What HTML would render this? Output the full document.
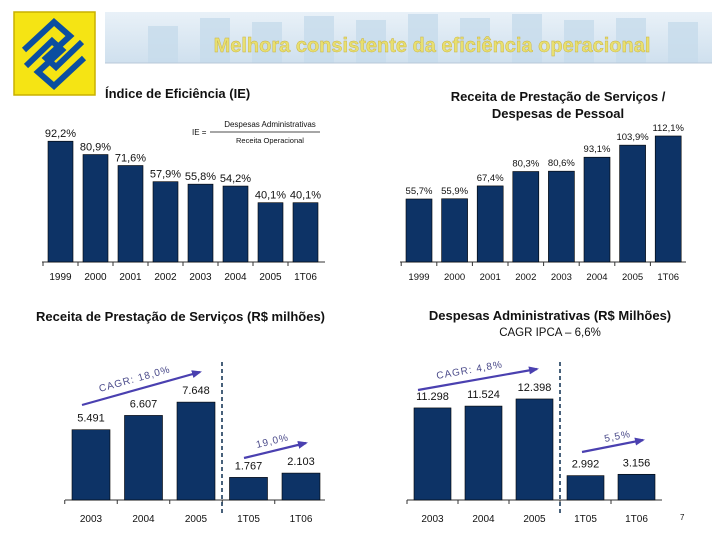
<!DOCTYPE html>
<html><head><meta charset="utf-8">
<style>
html,body{margin:0;padding:0;background:#fff;}
body{width:720px;height:540px;overflow:hidden;font-family:"Liberation Sans",sans-serif;}
svg text{font-family:"Liberation Sans",sans-serif;}
</style></head>
<body>
<svg id="s" width="720" height="540" viewBox="0 0 720 540">
<defs>
<linearGradient id="hg" x1="0" y1="0" x2="0" y2="1">
<stop offset="0" stop-color="#e9f1f8"/><stop offset="1" stop-color="#cfe0ee"/></linearGradient>
<marker id="ah" markerUnits="userSpaceOnUse" markerWidth="10" markerHeight="10" refX="8" refY="5" orient="auto"><path d="M0,1 L10,5 L0,9 z" fill="#4a40b0"/></marker>
</defs>
<g>
<rect x="105" y="12" width="607" height="51" fill="url(#hg)"/>
<g fill="#c7dcec" opacity="0.8">
<rect x="148" y="26" width="30" height="37"/><rect x="200" y="18" width="30" height="45"/><rect x="252" y="22" width="30" height="41"/><rect x="304" y="16" width="30" height="47"/><rect x="356" y="20" width="30" height="43"/><rect x="408" y="14" width="30" height="49"/><rect x="460" y="18" width="30" height="45"/><rect x="512" y="14" width="30" height="49"/><rect x="564" y="20" width="30" height="43"/><rect x="616" y="18" width="30" height="45"/><rect x="668" y="22" width="30" height="41"/>
</g>
<line x1="105" y1="63" x2="712" y2="63" stroke="#b8c8d8"/>
<text x="432" y="52" text-anchor="middle" font-size="20" font-weight="bold" fill="#e8e070" stroke="#c8b040" stroke-width="0.4">Melhora consistente da eficiência operacional</text>
</g>
<g>
<rect x="14" y="12" width="81" height="83" fill="#f5e414" stroke="#c8b000" stroke-width="1.5"/>
<g fill="none" stroke="#0b4ea0" stroke-width="6" stroke-linejoin="miter">
<path d="M24,50 L54,22 L70,36 L46,58 L56,67 L82,42"/>
<path d="M84,58 L54,86 L38,72 L62,50 L52,41 L26,66"/>
</g>
</g>

<g id="c1">
<text x="105" y="98" font-size="13" font-weight="bold" fill="#111">Índice de Eficiência (IE)</text>
<g>
<text x="192" y="135" font-size="8" fill="#111">IE =</text>
<text x="270" y="127" text-anchor="middle" font-size="8" fill="#111">Despesas Administrativas</text>
<line x1="210" y1="132" x2="320" y2="132" stroke="#111" stroke-width="0.8"/>
<text x="270" y="143" text-anchor="middle" font-size="7.5" fill="#111">Receita Operacional</text>
</g>
</g>
<g id="c2">
<text x="558" y="101" text-anchor="middle" font-size="13" font-weight="bold" fill="#111">Receita de Prestação de Serviços /</text>
<text x="558" y="118" text-anchor="middle" font-size="13" font-weight="bold" fill="#111">Despesas de Pessoal</text>
</g>
<g id="c3">
<text x="36" y="321" font-size="13" font-weight="bold" fill="#111">Receita de Prestação de Serviços (R$ milhões)</text>
</g>
<g id="c4">
<text x="550" y="320" text-anchor="middle" font-size="13" font-weight="bold" fill="#111">Despesas Administrativas (R$ Milhões)</text>
<text x="550" y="336" text-anchor="middle" font-size="11.5" fill="#111">CAGR IPCA – 6,6%</text>
</g>
<text x="680" y="520" font-size="8" fill="#111">7</text>
</svg>
<script>
const NS="http://www.w3.org/2000/svg";
const c1Cats=["1999","2000","2001","2002","2003","2004","2005","1T06"];
const c1Vals=[92.2,80.9,71.6,57.9,55.8,54.2,40.1,40.1];
const c1Labels=["92,2%","80,9%","71,6%","57,9%","55,8%","54,2%","40,1%","40,1%"];
const c2Cats=["1999","2000","2001","2002","2003","2004","2005","1T06"];
const c2Vals=[55.7,55.9,67.4,80.3,80.6,93.1,103.9,112.1];
const c2Labels=["55,7%","55,9%","67,4%","80,3%","80,6%","93,1%","103,9%","112,1%"];
const c3Cats=["2003","2004","2005","1T05","1T06"];
const c3Vals=[5491,6607,7648,1767,2103];
const c3Labels=["5.491","6.607","7.648","1.767","2.103"];
const c4Cats=["2003","2004","2005","1T05","1T06"];
const c4Vals=[11298,11524,12398,2992,3156];
const c4Labels=["11.298","11.524","12.398","2.992","3.156"];

function mk(parent,tag,attrs,text){const e=document.createElementNS(NS,tag);for(const k in attrs)e.setAttribute(k,attrs[k]);if(text!==undefined)e.textContent=text;parent.appendChild(e);return e;}

function chart(gid,cats,vals,labels,o){
  const g=document.getElementById(gid);
  const yS=v=>o.base-(o.a+o.b*v);
  const ax=mk(g,"line",{x1:o.ax0,y1:o.base,x2:o.ax1,y2:o.base,stroke:"#333","stroke-width":1});
  
  
  cats.forEach((c,i)=>{
    const x=o.x0+i*o.step;
    const y=yS(vals[i]);
    const r=mk(g,"rect",{x:x,y:y,width:o.w,height:o.base-y,fill:"#0d3366",stroke:"#000","stroke-width":0.6});
    
    
    const t=mk(g,"text",{x:x+o.w/2,y:y-o.lo,"text-anchor":"middle","font-size":o.lf,fill:"#111"},labels[i]);
    
    
    const tk=mk(g,"text",{x:x+o.w/2,y:o.base+o.to,"text-anchor":"middle","font-size":o.tf,fill:"#111"},c);
    
    
    const tm=mk(g,"line",{x1:x-(o.step-o.w)/2,y1:o.base,x2:x-(o.step-o.w)/2,y2:o.base+4,stroke:"#333"});
    
    
  });
}
chart("c1",c1Cats,c1Vals,c1Labels,{base:262,a:12,b:1.18,x0:48,step:35,w:25,ax0:42,ax1:325,lo:4,lf:11,to:18,tf:10});
chart("c2",c2Cats,c2Vals,c2Labels,{base:262,a:0.8,b:1.117,x0:406,step:35.6,w:26,ax0:400,ax1:686,lo:5,lf:9.5,to:18,tf:9.5});
chart("c3",c3Cats,c3Vals,c3Labels,{base:500,a:0,b:0.0128,x0:72,step:52.5,w:38,ax0:65,ax1:325,lo:8,lf:11,to:22,tf:10});
chart("c4",c4Cats,c4Vals,c4Labels,{base:500,a:0,b:0.00815,x0:414,step:51,w:37,ax0:407,ax1:662,lo:8,lf:11,to:22,tf:10});

function dash(gid,x){const g=document.getElementById(gid);
  const l=mk(g,"line",{x1:x,y1:362,x2:x,y2:514,stroke:"#1a3a5a","stroke-width":1.6,"stroke-dasharray":"4,3"});
  
  }
dash("c3",222);dash("c4",560);
function arrow(gid,x1,y1,x2,y2,txt,tx,ty,name){const g=document.getElementById(gid);
  const l=mk(g,"line",{x1:x1,y1:y1,x2:x2,y2:y2,stroke:"#4a40b0","stroke-width":2.2,"marker-end":"url(#ah)"});
  
  
  const ang=Math.atan2(y2-y1,x2-x1)*180/Math.PI;
  const t=mk(g,"text",{x:tx,y:ty,"font-size":10,fill:"#4a4a8a","letter-spacing":"1",transform:`rotate(${ang} ${tx} ${ty})`},txt);
  
  }
arrow("c3",82,405,200,372,"CAGR: 18,0%",100,392,"revenue-cagr");
arrow("c3",244,458,306,443,"19,0%",257,448,"revenue-quarter-growth");
arrow("c4",418,390,537,369,"CAGR: 4,8%",437,379,"expenses-cagr");
arrow("c4",582,452,643,440,"5,5%",605,442,"expenses-quarter-growth");
</script>
</body></html>
